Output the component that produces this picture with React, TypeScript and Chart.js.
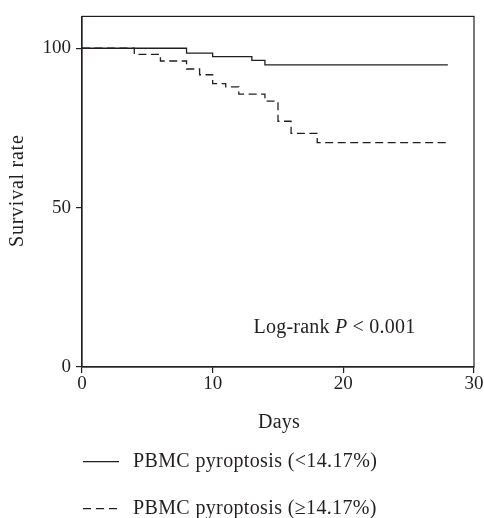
import React, { useEffect, useRef } from "react";
import { Chart, registerables } from "chart.js";

Chart.register(...registerables);

// Kaplan–Meier step data (days, survival %)
const lowDays = [0, 8, 10, 13, 14, 28];
const lowSurvival = [100, 98.5, 97.4, 96.2, 94.8, 94.8];
const highDays = [0, 4, 6, 8, 9, 10, 11, 12, 14, 15, 16, 18, 28];
const highSurvival = [100, 98.1, 96.0, 93.5, 91.7, 88.9, 87.9, 85.6, 83.4, 77.1, 73.3, 70.4, 70.4];

const seriesLabels = ["PBMC pyroptosis (<14.17%)", "PBMC pyroptosis (\u226514.17%)"];
const xTicks = [0, 10, 20, 30];
const yTicks = [0, 50, 100];
const xTitle = "Days";
const yTitle = "Survival rate";
const annotationParts = ["Log-rank ", "P", " < 0.001"];

const FONT = "'Liberation Serif', 'Times New Roman', serif";
const INK = "#231f20";
const FS = 19;
const TFS = 20;

const overlayPlugin = {
  id: "overlay",
  afterDraw(chart: any) {
    const { ctx, chartArea } = chart;
    ctx.save();
    // frame
    ctx.strokeStyle = INK;
    ctx.lineWidth = 1.2;
    ctx.setLineDash([]);
    ctx.strokeRect(chartArea.left, chartArea.top, chartArea.right - chartArea.left, chartArea.bottom - chartArea.top);

    ctx.fillStyle = INK;
    // axis titles
    ctx.font = TFS + "px " + FONT;
    (ctx as any).letterSpacing = "0.25px";
    ctx.textAlign = "center";
    ctx.textBaseline = "alphabetic";
    ctx.fillText(xTitle, (chartArea.left + chartArea.right) / 2 + 1, 428);
    ctx.save();
    ctx.translate(23, (chartArea.top + chartArea.bottom) / 2 - 1);
    ctx.rotate(-Math.PI / 2);
    (ctx as any).letterSpacing = "0.75px";
    ctx.fillText(yTitle, 0, 0);
    ctx.restore();

    // annotation
    (ctx as any).letterSpacing = "0.22px";
    ctx.textAlign = "left";
    ctx.textBaseline = "alphabetic";
    let x = 253.5;
    const y = 333;
    annotationParts.forEach((p, i) => {
      ctx.font = (i === 1 ? "italic " : "") + TFS + "px " + FONT;
      ctx.fillText(p, x, y);
      x += ctx.measureText(p).width;
    });

    // legend
    (ctx as any).letterSpacing = "0.36px";
    const rows = [461.7, 508.7];
    chart.data.datasets.forEach((ds: any, i: number) => {
      const ly = rows[i];
      ctx.beginPath();
      ctx.strokeStyle = INK;
      ctx.lineWidth = 1.2;
      ctx.setLineDash(i === 0 ? [] : [8, 5]);
      ctx.moveTo(83, ly);
      ctx.lineTo(119, ly);
      ctx.stroke();
      ctx.setLineDash([]);
      ctx.font = TFS + "px " + FONT;
      ctx.textBaseline = "middle";
      ctx.fillText(ds.label, 133, ly);
    });
    ctx.restore();
  },
};

export default function App() {
  const ref = useRef<HTMLCanvasElement>(null);
  useEffect(() => {
    if (!ref.current) return;
    const chart = new Chart(ref.current, {
      type: "line",
      data: {
        datasets: [
          {
            label: seriesLabels[0],
            data: lowDays.map((d, i) => ({ x: d, y: lowSurvival[i] })),
            borderColor: INK,
            borderWidth: 1.3,
            pointRadius: 0,
            stepped: "before",
            fill: false,
          },
          {
            label: seriesLabels[1],
            data: highDays.map((d, i) => ({ x: d, y: highSurvival[i] })),
            borderColor: INK,
            borderWidth: 1.3,
            borderDash: [8, 4.5],
            pointRadius: 0,
            stepped: "before",
            fill: false,
          },
        ],
      },
      options: {
        responsive: false,
        animation: false,
        layout: { padding: { left: 0, right: 10, top: 12.5, bottom: 85 } },
        plugins: { legend: { display: false }, tooltip: { enabled: false } },
        scales: {
          x: {
            type: "linear",
            min: 0,
            max: 30,
            afterBuildTicks: (s: any) => {
              s.ticks = xTicks.map((v) => ({ value: v }));
            },
            afterFit: (s: any) => {
              s.height = 66;
            },
            ticks: { color: INK, font: { family: FONT, size: FS }, padding: 0, maxRotation: 0 },
            grid: { drawOnChartArea: false, drawTicks: true, tickLength: 6, color: INK, lineWidth: 1.2 },
            border: { display: true, color: INK, width: 1.2 },
            title: { display: false, text: xTitle },
          },
          y: {
            type: "linear",
            min: 0,
            max: 110,
            afterBuildTicks: (s: any) => {
              s.ticks = yTicks.map((v) => ({ value: v }));
            },
            afterFit: (s: any) => {
              s.width = 82;
            },
            ticks: { color: INK, font: { family: FONT, size: FS }, padding: 5 },
            grid: { drawOnChartArea: false, drawTicks: true, tickLength: 6, color: INK, lineWidth: 1.2 },
            border: { display: true, color: INK, width: 1.2 },
            title: { display: false, text: yTitle },
          },
        },
      },
      plugins: [overlayPlugin],
    } as any);
    return () => chart.destroy();
  }, []);
  return (
    <div style={{ position: "fixed", left: 0, top: 0, width: 484, height: 518, background: "#fff" }}>
      <canvas ref={ref} width={484} height={518} />
    </div>
  );
}
